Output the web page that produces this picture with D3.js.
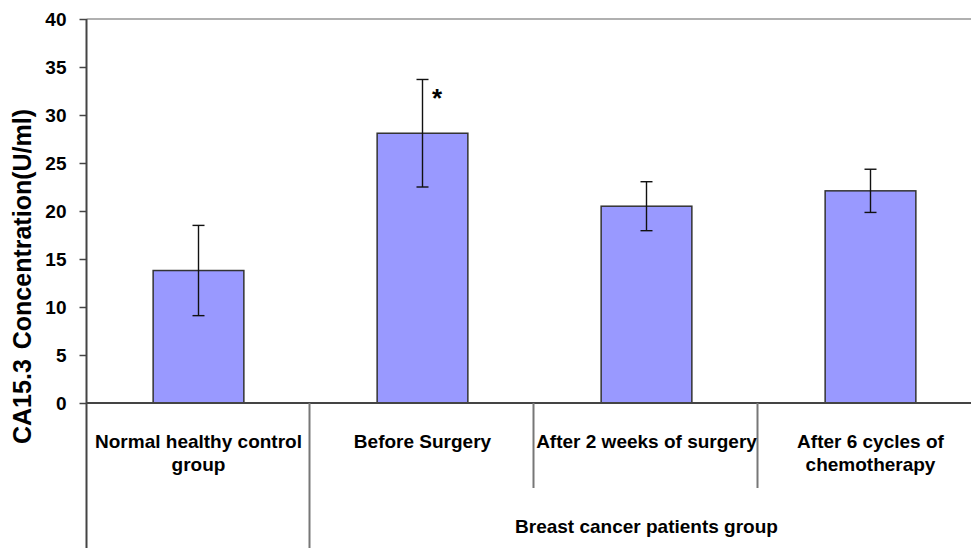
<!DOCTYPE html>
<html>
<head>
<meta charset="utf-8">
<script src="https://cdn.jsdelivr.net/npm/d3@7/dist/d3.min.js"></script>
<style>
  html, body { margin: 0; padding: 0; background: #fff; }
  svg { display: block; }
  text { font-family: "Liberation Sans", Arial, sans-serif; font-weight: bold; fill: #000; }
</style>
</head>
<body>
<svg id="chart" width="971" height="548"></svg>
<script>
const categories = [
  ["Normal healthy control", "group"],
  ["Before Surgery"],
  ["After 2 weeks of surgery"],
  ["After 6 cycles of", "chemotherapy"]
];
const means = [13.8, 28.1, 20.5, 22.1];
const errors = [4.7, 5.6, 2.55, 2.25];
const yTicks = [0, 5, 10, 15, 20, 25, 30, 35, 40];
const groupLabel = "Breast cancer patients group";
const yTitle = "CA15.3 Concentration(U/ml)";
const significant = [false, true, false, false];

(function () {
const svg = d3.select("#chart");
const mLeft = 86.5, mTop = 19, mBottom = 403, mRight = 982.5;
const idx = d3.range(categories.length);

const xCat = d3.scaleBand().domain(idx).range([mLeft, mRight]).padding(0);
const xBar = d3.scaleBand().domain(idx).range([mLeft, mRight]).paddingInner(0.595).paddingOuter(0.2975);
const y = d3.scaleLinear().domain([0, 40]).range([mBottom, mTop]);

// top border
svg.append("line").attr("x1", mLeft).attr("x2", 971).attr("y1", mTop).attr("y2", mTop)
  .attr("stroke", "#b0b0b0").attr("stroke-width", 2);

// bars
svg.append("g").selectAll("rect").data(idx).join("rect")
  .attr("x", i => xBar(i))
  .attr("width", xBar.bandwidth())
  .attr("y", i => y(means[i]))
  .attr("height", i => y(0) - y(means[i]))
  .attr("fill", "#9999ff")
  .attr("stroke", "#333")
  .attr("stroke-width", 1.5);

// error bars
const eg = svg.append("g").attr("stroke", "#111").attr("stroke-width", 1.4);
idx.forEach(i => {
  const cx = xBar(i) + xBar.bandwidth() / 2;
  const y1 = y(means[i] + errors[i]), y2 = y(means[i] - errors[i]);
  eg.append("line").attr("x1", cx).attr("x2", cx).attr("y1", y1).attr("y2", y2);
  eg.append("line").attr("x1", cx - 6).attr("x2", cx + 6).attr("y1", y1).attr("y2", y1);
  eg.append("line").attr("x1", cx - 6).attr("x2", cx + 6).attr("y1", y2).attr("y2", y2);
  if (significant[i]) {
    svg.append("text").attr("x", cx + 14.5).attr("y", y1 + 28)
      .attr("text-anchor", "middle").style("font-size", "26px").text("*");
  }
});

// y axis
const yAxis = d3.axisLeft(y).tickValues(yTicks).tickSize(7).tickPadding(13);
const yg = svg.append("g").attr("transform", `translate(${mLeft},0)`).call(yAxis);
yg.select(".domain").remove();
yg.selectAll(".tick line").attr("stroke", "#444").attr("stroke-width", 1.5);
yg.selectAll(".tick text").style("font-size", "19px").style("font-family", "Liberation Sans, Arial, sans-serif")
  .style("font-weight", "bold").attr("dy", "0.35em");
svg.append("line").attr("x1", mLeft).attr("x2", mLeft).attr("y1", mTop).attr("y2", 548)
  .attr("stroke", "#444").attr("stroke-width", 2);

// x axis line
svg.append("line").attr("x1", mLeft).attr("x2", 971).attr("y1", mBottom).attr("y2", mBottom)
  .attr("stroke", "#444").attr("stroke-width", 2);

// category dividers
const dividers = [
  {x: xCat(1), y2: 548},
  {x: xCat(2), y2: 488},
  {x: xCat(3), y2: 488}
];
svg.append("g").selectAll("line").data(dividers).join("line")
  .attr("x1", d => d.x - 1).attr("x2", d => d.x - 1)
  .attr("y1", mBottom).attr("y2", d => d.y2)
  .attr("stroke", "#777").attr("stroke-width", 2);

// category labels
idx.forEach(i => {
  const cx = xCat(i) + xCat.bandwidth() / 2;
  const t = svg.append("text").attr("text-anchor", "middle").style("font-size", "19px");
  categories[i].forEach((line, k) => {
    t.append("tspan").attr("x", cx).attr("y", 448 + k * 23).text(line);
  });
});

// group label
svg.append("text").attr("x", (xCat(1) + mRight) / 2).attr("y", 533)
  .attr("text-anchor", "middle").style("font-size", "19px").text(groupLabel);

// y title
svg.append("text").attr("transform", `translate(31,276.5) rotate(-90)`)
  .attr("text-anchor", "middle").style("font-size", "25px").style("word-spacing", "3px").text(yTitle);
})();
</script>
</body>
</html>
